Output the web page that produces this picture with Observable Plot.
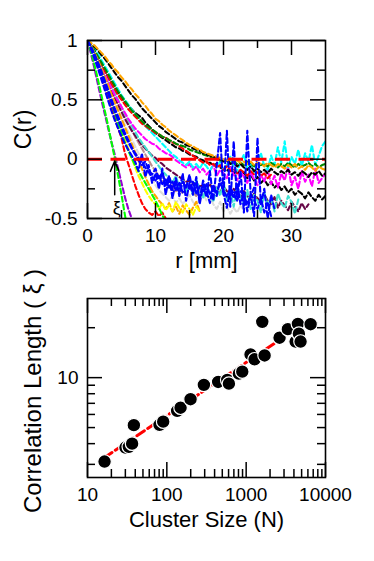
<!DOCTYPE html>
<html>
<head>
<meta charset="utf-8">
<script src="https://cdn.jsdelivr.net/npm/d3@7"></script>
<script src="https://cdn.jsdelivr.net/npm/@observablehq/plot@0.6"></script>
<style>
  html, body { margin: 0; padding: 0; background: #fff; }
  #chart svg { display: block; }
</style>
</head>
<body>
<div id="chart"></div>
<script>
const FONT = "'Liberation Sans', Arial, Helvetica, sans-serif";

// ---------- Top panel data: C(r), sampled every 0.5 mm from r = 0 ----------
const rStep = 0.5;

const curveGreen1 = [1,.91,.80,.68,.55,.42,.29,.15,.01,-.14,-.30,-.47,-.62];
const curveViolet = [1,.89,.77,.64,.51,.39,.27,.15,.04,-.08,-.20,-.32,-.42,-.50,-.57];
const curveGreen2 = [1,.95,.89,.82,.74,.66,.57,.48,.39,.30,.22,.14,.07,.01,-.05,-.10,-.15,-.20,-.25,-.30,-.35,-.41,-.47,-.53];
const curveRedLow = [1,.95,.88,.80,.71,.62,.53,.44,.35,.26,.18,.05,-.04,-.13,-.22,-.30,-.37,-.42,-.45,-.47,-.44,-.48,-.45,-.50];
const curveYellow = [1,.95,.89,.82,.74,.66,.58,.49,.41,.33,
  .25,.17,.09,.01,-.07,-.14,-.20,-.26,-.31,-.35,
  -.38,-.42,-.37,-.43,-.39,-.44,-.36,-.41,-.45,-.38,
  -.42,-.47,-.40,-.44];
const curveOrangeLow = [1,.96,.90,.84,.77,.70,.63,.55,.48,.41,
  .34,.27,.20,.13,.06,-.01,-.08,-.15,-.21,-.27,
  -.31,-.35,-.38,-.42,-.37,-.44,-.40,-.46,-.39,-.43,
  -.47,-.41,-.36,-.44];
const curveGray = [1,.96,.91,.85,.78,.71,.64,.57,.50,.43,
  .36,.29,.23,.17,.11,.05,-.01,-.07,-.12,-.17,
  -.22,-.26,-.29,-.32,-.35,-.31,-.37,-.33,-.38,-.34,
  -.30,-.36,-.39,-.33,-.29,-.35,-.31,-.38,-.42,-.36,
  -.44,-.40,-.46,-.41,-.45,-.39,-.43];
const curveBrown = [1,.96,.92,.87,.81,.75,.69,.62,.56,.49,
  .43,.37,.31,.25,.19,.14,.09,.04,-.01,-.06,
  -.10,-.14,-.18,-.21,-.24,-.22,-.27,-.25,-.29,-.26,
  -.23,-.28,-.31,-.26,-.30];
const curveBlue2 = [1,.95,.89,.82,.75,.67,.59,.51,.43,.36,
  .29,.22,.16,.10,.05,.01,-.03,-.07,-.11,-.15,
  -.18,-.14,-.21,-.17,-.24,-.19,-.26,-.20,-.28,-.22,
  -.25,-.19,-.29,-.23,-.27,-.21,-.30,-.24,-.28,-.20,
  -.26,-.32,-.24,-.29,-.35,-.27,-.31,-.38,-.30,-.34,
  -.42,-.33,-.45,-.36,-.48];
const curveBlue3 = [1,.94,.87,.80,.72,.64,.56,.48,.40,.33,
  .26,.20,.14,.09,.04,-.01,-.05,-.02,-.09,-.13,
  -.08,-.17,-.11,-.22,-.14,-.26,-.16,-.31,-.19,-.24,
  -.13,-.28,-.21,-.34,-.18,-.27,-.37,-.22,-.31,-.16,
  -.29,-.41,-.25,-.33,-.20,-.38,-.28,-.44,-.31,-.24];
const curveBlue1 = [1,.93,.85,.77,.68,.59,.50,.41,.33,.26,
  .19,.13,.08,.03,-.02,-.10,.05,-.15,-.05,-.20,
  -.12,-.25,-.08,-.30,-.15,-.33,-.18,-.28,-.12,-.35,
  -.20,-.30,-.15,-.38,-.22,-.32,-.10,-.35,-.05,.22,
  -.30,.24,-.40,.15,-.35,-.10,-.45,.24,-.30,-.48,
  .18,-.38,-.25,-.50,-.30,-.42];
const curveTurquoise = [1,.96,.91,.86,.80,.74,.68,.62,.56,.50,
  .44,.38,.33,.28,.23,.18,.14,.10,.06,.02,
  -.02,-.06,-.10,-.13,-.16,-.20,-.14,-.24,-.18,-.28,
  -.21,-.30,-.17,-.26,-.33,-.22,-.29,-.36,-.24,-.31,
  -.19,-.35,-.27,-.40,-.23,-.32,-.38,-.26,-.42,-.30,
  -.35,-.45,-.28,-.39,-.33,-.44,-.29,-.37,-.41,-.31,
  -.36,-.46,-.34];
const curveCyan = [1,.97,.93,.89,.84,.79,.74,.69,.64,.59,
  .54,.50,.46,.42,.38,.35,.31,.28,.25,.22,
  .19,.16,.13,.10,.07,.04,.02,-.01,-.03,-.05,
  -.02,-.07,-.04,-.08,-.03,-.06,-.10,-.04,-.07,-.02,
  -.09,-.05,.02,-.06,-.10,-.03,.04,-.08,-.04,-.11,
  -.02,.05,-.06,-.09,.03,-.05,.10,-.03,.15,-.07,
  .02,-.04,.08,-.06,.05,-.02,.12,-.05,.03,.11,
  .15];
const curveMagenta = [1,.95,.90,.84,.78,.72,.66,.60,.54,.49,
  .44,.39,.34,.30,.26,.23,.20,.17,.15,.13,
  .12,.09,.07,.05,.04,.02,-.01,-.03,-.05,-.07,
  -.04,-.09,-.06,-.11,-.08,-.13,-.10,-.05,-.14,-.09,
  -.12,-.16,-.07,-.13,-.18,-.10,-.15,-.20,-.11,-.17,
  -.22,-.13,-.19,-.09,-.21,-.14,-.24,-.12,-.18,-.06,
  -.22,-.15,-.25,-.10,-.19,-.13,-.23,-.08,-.20,-.16,
  -.12];
const curveRedMid = [1,.96,.91,.86,.81,.75,.70,.64,.59,.54,
  .50,.46,.42,.39,.36,.33,.30,.28,.26,.24,
  .22,.21,.19,.18,.16,.14,.13,.11,.09,.07,
  .05,.03,.01,-.01,-.03,-.02,-.05,-.04,-.07,-.05,
  -.09,-.06,-.10,-.08,-.12,-.09,-.11,-.14,-.10,-.13,
  -.11,-.14,-.12,-.16,-.13];
const curveMaroon = [1,.95,.90,.84,.78,.71,.65,.58,.52,.46,
  .40,.34,.29,.24,.20,.16,.12,.09,.06,.03,
  .01,-.02,-.04,-.07,-.09,-.11,-.13,-.15,-.17,-.19,
  -.18,-.21,-.20,-.23,-.22,-.25,-.21,-.26,-.24,-.28,
  -.23,-.27,-.30,-.25,-.29,-.32,-.27,-.31,-.34,-.29,
  -.33,-.36,-.30,-.35,-.38,-.32,-.41,-.35,-.39,-.43,
  -.36,-.40,-.44,-.37,-.42,-.38];
const curveBlack2 = [1,.96,.91,.86,.80,.75,.70,.65,.60,.56,
  .52,.48,.45,.42,.39,.37,.35,.31,.28,.25,
  .22,.20,.18,.16,.14,.12,.10,.09,.07,.06,
  .04,.03,.02,.00,-.01,-.03,-.03,-.05,-.04,-.07,
  -.08,-.10,-.07,-.12,-.10,-.14,-.11,-.16,-.13,-.18,
  -.15,-.20,-.17,-.22,-.19,-.24,-.21,-.26,-.23,-.28,
  -.25,-.30,-.27,-.29,-.33,-.28,-.32,-.35,-.30,-.34,
  -.31];
const curveGreen4 = [1,.96,.92,.87,.82,.77,.72,.67,.62,.57,
  .53,.49,.45,.41,.38,.35,.32,.29,.27,.25,
  .23,.21,.19,.18,.16,.15,.13,.12,.11,.10,
  .08,.07,.06,.05,.04,.03,.02,.01,.00,-.01,
  -.02,-.01,-.03,-.02,-.04,-.03,-.05,-.02,-.04,-.06,
  -.03,-.05,-.04,-.06,-.03,-.05,-.07,-.04,-.06,-.03,
  -.05,-.07,-.04,-.06,-.05,-.03,-.06,-.04,-.07,-.05,
  -.04];
const curveBlackOuter = [1,.97,.95,.92,.88,.85,.81,.77,.73,.69,
  .66,.62,.58,.54,.51,.47,.43,.40,.37,.34,
  .31,.28,.26,.23,.21,.19,.17,.15,.14,.12,
  .11,.09,.08,.07,.05,.04,.03,.02,.01,.00,
  -.02,-.01,-.04,-.03,-.06,-.04,-.07,-.09,-.06,-.10,
  -.08,-.11,-.09,-.12,-.08,-.11,-.13,-.10,-.12,-.09,
  -.13,-.11,-.14,-.10,-.12,-.15,-.11,-.13,-.10,-.14,
  -.12];
const curveOrangeOuter = [1,.98,.96,.93,.90,.87,.83,.80,.76,.73,
  .69,.66,.62,.59,.55,.52,.48,.45,.41,.38,
  .34,.32,.29,.27,.24,.22,.20,.18,.16,.14,
  .12,.11,.09,.08,.06,.05,.04,.03,.02,.01,
  .00,-.01,.01,-.02,-.01,-.03,-.02,-.04,-.02,-.05,
  -.03,-.04,-.06,-.03,-.05,-.07,-.04,-.06,-.08,-.05,
  -.07,-.04,-.08,-.06,-.09,-.05,-.07,-.10,-.06,-.08,
  -.09];

// drawing order: first = bottom
const curves = [
  {name: "gray", color: "#dcdcdc", values: curveGray},
  {name: "brown", color: "#bc8f8f", values: curveBrown},
  {name: "maroon", color: "#670748", values: curveMaroon},
  {name: "turquoise", color: "#40e0d0", values: curveTurquoise},
  {name: "black2", color: "#000000", values: curveBlack2},
  {name: "magenta", color: "#ff00ff", values: curveMagenta},
  {name: "cyan", color: "#00ffff", values: curveCyan},
  {name: "redMid", color: "#ff0000", values: curveRedMid},
  {name: "green4", color: "#008b00", values: curveGreen4},
  {name: "blackOuter", color: "#000000", values: curveBlackOuter},
  {name: "orangeOuter", color: "#ffa500", values: curveOrangeOuter},
  {name: "orangeLow", color: "#ffa500", values: curveOrangeLow},
  {name: "yellow", color: "#ffff00", values: curveYellow},
  {name: "redLow", color: "#ff0000", values: curveRedLow},
  {name: "green2", color: "#00ff00", values: curveGreen2},
  {name: "violet", color: "#9400d3", values: curveViolet},
  {name: "green1", color: "#00ff00", values: curveGreen1},
  {name: "blue3", color: "#0000ff", values: curveBlue3},
  {name: "blue2", color: "#0000ff", values: curveBlue2},
  {name: "blue1", color: "#0000ff", values: curveBlue1}
];

const zeroLevel = [0];
const xiArrow = [{r: 4, from: -0.30, to: -0.015}];
const xiLabel = [{r: 4.3, c: -0.41, text: "ξ"}];

const topXMajor = [0, 10, 20, 30];
const topXMinor = [5, 15, 25];
const topXLabels = ["0", "10", "20", "30"];
const topYMajor = [1, 0.5, 0, -0.5];
const topYMinor = [0.75, 0.25, -0.25];
const topYLabels = ["1", "0.5", "0", "-0.5"];

// ---------- Bottom panel data ----------
const clusterSize = [16.4, 30.1, 33.2, 36.5, 38.4, 80.9, 90, 135, 149, 199, 293, 444, 578, 606, 809, 893, 1135, 1276, 1596, 1708, 2636, 3357, 4200, 4490, 4620, 4850, 6490];
const corrLength  = [3.12, 3.79, 3.83, 4.0, 5.17, 5.19, 5.43, 6.3, 6.59, 7.41, 9.04, 9.42, 9.68, 9.2, 10.57, 10.87, 13.8, 12.9, 21.7, 13.6, 17.4, 19.6, 16.5, 21.1, 18.4, 16.5, 21.0];
const fitN  = [16.4, 6490];
const fitXi = [3.30, 22.5];

const botXMajor = [10, 100, 1000, 10000];
const botXLabels = ["10", "100", "1000", "10000"];
const botXMinor = [20,30,40,50,60,70,80,90,200,300,400,500,600,700,800,900,2000,3000,4000,5000,6000,7000,8000,9000];
const botYMajor = [10];
const botYLabels = ["10"];
const botYMinor = [3,4,5,6,7,8,9,20];

// ---------- helpers ----------
const W = 374;
const ML = 87, MR = 49;
const frameW = W - ML - MR;
const MAJ = 15, MIN = 8;
const TW = 1.5;

function tickMarks(xMaj, xMin, yMaj, yMin, frameH) {
  const m = [];
  const add = (vals, len, isX) => {
    if (isX) {
      m.push(Plot.tickX(vals, {x: d => d, insetBottom: frameH - len, strokeWidth: TW, stroke: "black"}));
      m.push(Plot.tickX(vals, {x: d => d, insetTop: frameH - len, strokeWidth: TW, stroke: "black"}));
    } else {
      m.push(Plot.tickY(vals, {y: d => d, insetRight: frameW - len, strokeWidth: TW, stroke: "black"}));
      m.push(Plot.tickY(vals, {y: d => d, insetLeft: frameW - len, strokeWidth: TW, stroke: "black"}));
    }
  };
  add(xMaj, MAJ, true); add(xMin, MIN, true);
  add(yMaj, MAJ, false); add(yMin, MIN, false);
  return m;
}

// ---------- top panel ----------
const topH = 280, topMT = 40, topMB = 62;
const topFrameH = topH - topMT - topMB;

const topPlot = Plot.plot({
  width: W, height: topH,
  marginLeft: ML, marginRight: MR, marginTop: topMT, marginBottom: topMB,
  style: {fontFamily: FONT, background: "white", overflow: "visible"},
  x: {domain: [0, 35], axis: null},
  y: {domain: [-0.5, 1], axis: null},
  marks: [
    ...curves.map(c => Plot.line(c.values.map((v, i) => ({r: i * rStep, c: v})), {
      x: "r", y: "c", stroke: c.color, strokeWidth: 2.1, strokeDasharray: "5,3", clip: true
    })),
    Plot.ruleY(zeroLevel, {stroke: "#ff0000", strokeWidth: 3, strokeDasharray: "15,8.5"}),
    Plot.arrow(xiArrow, {x1: "r", y1: "from", x2: "r", y2: "to", stroke: "black", strokeWidth: 1.5, headAngle: 45, headLength: 19}),
    Plot.text(xiLabel, {x: "r", y: "c", text: "text", fontSize: 18, fill: "black"}),
    Plot.frame({stroke: "black", strokeWidth: 1.6}),
    ...tickMarks(topXMajor, topXMinor, topYMajor, topYMinor, topFrameH),
    Plot.text(topXMajor, {x: d => d, text: (d, i) => topXLabels[i], frameAnchor: "bottom", dy: 17, textAnchor: "middle", lineAnchor: "middle", fontSize: 19, fill: "black"}),
    Plot.text(topYMajor, {y: d => d, text: (d, i) => topYLabels[i], frameAnchor: "left", dx: -10, textAnchor: "end", lineAnchor: "middle", fontSize: 19, fill: "black"}),
    Plot.text(["C(r)"], {frameAnchor: "left", dx: -64, rotate: -90, textAnchor: "middle", lineAnchor: "middle", fontSize: 23, fill: "black"}),
    Plot.text(["r [mm]"], {frameAnchor: "bottom", dy: 42, textAnchor: "middle", lineAnchor: "middle", fontSize: 22, fill: "black"})
  ]
});

// ---------- bottom panel ----------
const botH = 281, botMT = 18, botMB = 84;
const botFrameH = botH - botMT - botMB;
const points = clusterSize.map((n, i) => ({N: n, xi: corrLength[i]}));
const fitLine = fitN.map((n, i) => ({N: n, xi: fitXi[i]}));

const botPlot = Plot.plot({
  width: W, height: botH,
  marginLeft: ML, marginRight: MR, marginTop: botMT, marginBottom: botMB,
  style: {fontFamily: FONT, background: "white", overflow: "visible"},
  x: {type: "log", domain: [10, 10000], axis: null},
  y: {type: "log", domain: [2.5, 30], axis: null},
  marks: [
    Plot.line(fitLine, {x: "N", y: "xi", stroke: "#ff0000", strokeWidth: 3, strokeDasharray: "9,4"}),
    Plot.dot(points, {x: "N", y: "xi", r: 6.8, fill: "black", stroke: "white", strokeWidth: 1.2}),
    Plot.frame({stroke: "black", strokeWidth: 1.6}),
    ...tickMarks(botXMajor, botXMinor, botYMajor, botYMinor, botFrameH),
    Plot.text(botXMajor, {x: d => d, text: (d, i) => botXLabels[i], frameAnchor: "bottom", dy: 17, textAnchor: "middle", lineAnchor: "middle", fontSize: 19, fill: "black"}),
    Plot.text(botYMajor, {y: d => d, text: (d, i) => botYLabels[i], frameAnchor: "left", dx: -9, textAnchor: "end", lineAnchor: "middle", fontSize: 19, fill: "black"}),
    Plot.text(["Correlation Length ( ξ )"], {frameAnchor: "left", dx: -54, dy: 3, rotate: -90, textAnchor: "middle", lineAnchor: "middle", fontSize: 24, fill: "black"}),
    Plot.text(["Cluster Size (N)"], {frameAnchor: "bottom", dy: 42, textAnchor: "middle", lineAnchor: "middle", fontSize: 22, fill: "black"})
  ]
});

const chart = document.getElementById("chart");
chart.appendChild(topPlot);
chart.appendChild(botPlot);
</script>
</body>
</html>
